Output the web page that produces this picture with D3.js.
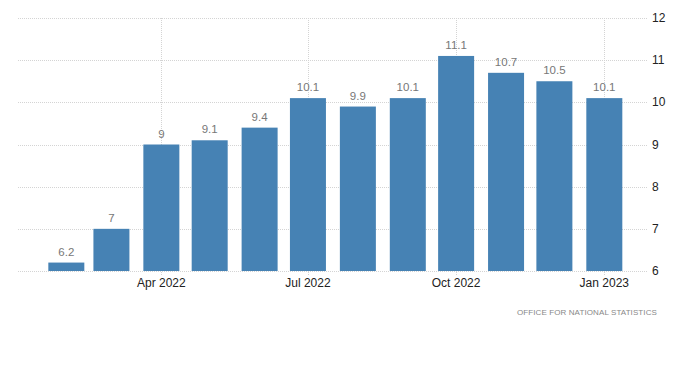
<!DOCTYPE html>
<html>
<head>
<meta charset="utf-8">
<script src="https://cdn.jsdelivr.net/npm/d3@7"></script>
<style>
  body { margin: 0; background: #fff; }
  svg { display: block; font-family: "Liberation Sans", Arial, sans-serif; }
</style>
</head>
<body>
<div id="chart"></div>
<script>
const months = ["2022-02", "2022-03", "2022-04", "2022-05", "2022-06", "2022-07",
                "2022-08", "2022-09", "2022-10", "2022-11", "2022-12", "2023-01"];
const values = [6.2, 7, 9, 9.1, 9.4, 10.1, 9.9, 10.1, 11.1, 10.7, 10.5, 10.1];
const xTicks = ["2022-04", "2022-07", "2022-10", "2023-01"];
const yTicks = [6, 7, 8, 9, 10, 11, 12];
const source = "OFFICE FOR NATIONAL STATISTICS";

const SIZE = { width: 700, height: 369 };
const PLOT = { left: 18, right: 647, top: 18, bottom: 271 };
const BAR_W = 36;

const parse = d3.timeParse("%Y-%m");
const fmt = d3.timeFormat("%b %Y");

const svg = d3.select("#chart").append("svg")
    .attr("width", SIZE.width)
    .attr("height", SIZE.height);

const x = d3.scaleTime()
    .domain([new Date(2022, 0, 2), new Date(2023, 0, 27, 12)])
    .range([PLOT.left, PLOT.right]);
const y = d3.scaleLinear().domain([6, 12]).range([PLOT.bottom, PLOT.top]);

// horizontal grid
svg.append("g").selectAll("line").data(yTicks).enter().append("line")
    .attr("x1", PLOT.left).attr("x2", PLOT.right)
    .attr("y1", d => Math.round(y(d)) + 0.5).attr("y2", d => Math.round(y(d)) + 0.5)
    .attr("stroke", "#d4d4d4").attr("stroke-dasharray", "1,1");

// vertical grid at date ticks
svg.append("g").selectAll("line").data(xTicks.map(parse)).enter().append("line")
    .attr("x1", d => Math.round(x(d)) + 0.5).attr("x2", d => Math.round(x(d)) + 0.5)
    .attr("y1", PLOT.top).attr("y2", PLOT.bottom + 4)
    .attr("stroke", "#d4d4d4").attr("stroke-dasharray", "1,1");

// bars
svg.append("g").selectAll("rect").data(months).enter().append("rect")
    .attr("x", d => x(parse(d)) - BAR_W / 2)
    .attr("width", BAR_W)
    .attr("y", (d, i) => y(values[i]))
    .attr("height", (d, i) => y(6) - y(values[i]))
    .attr("fill", "#4682b4");

// value labels
svg.append("g").selectAll("text").data(months).enter().append("text")
    .attr("x", d => x(parse(d)))
    .attr("y", (d, i) => y(values[i]) - 7)
    .attr("text-anchor", "middle")
    .attr("font-size", 11.5)
    .attr("fill", "#777")
    .text((d, i) => values[i]);

// x axis labels
svg.append("g").selectAll("text").data(xTicks.map(parse)).enter().append("text")
    .attr("x", d => x(d))
    .attr("y", 287)
    .attr("text-anchor", "middle")
    .attr("font-size", 12)
    .attr("fill", "#222")
    .text(d => fmt(d));

// y axis labels on right
svg.append("g").selectAll("text").data(yTicks).enter().append("text")
    .attr("x", 652)
    .attr("y", d => y(d) + 4)
    .attr("font-size", 12)
    .attr("fill", "#222")
    .text(d => d);

// source
svg.append("text")
    .attr("x", 657)
    .attr("y", 315)
    .attr("text-anchor", "end")
    .attr("font-size", 8)
    .attr("letter-spacing", 0.1)
    .attr("fill", "#888")
    .text(source);
</script>
</body>
</html>
